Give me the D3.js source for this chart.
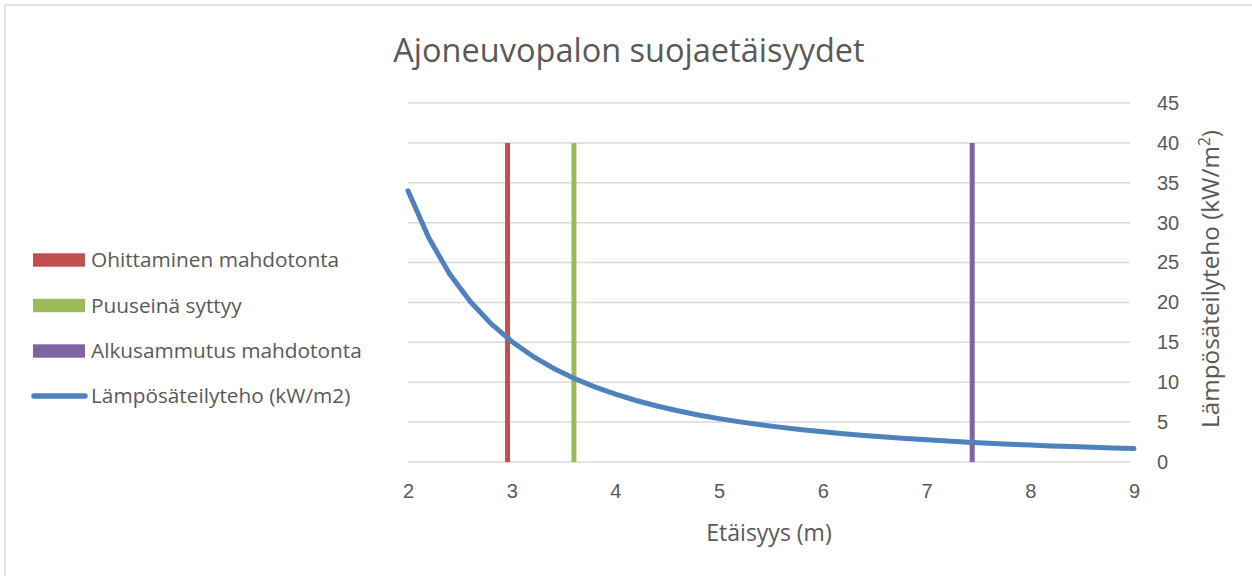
<!DOCTYPE html>
<html>
<head>
<meta charset="utf-8">
<script src="https://cdn.jsdelivr.net/npm/d3@7"></script>
<style>
  body { margin: 0; background: #fff; }
  svg { display: block; font-family: "Open Sans", "Noto Sans", sans-serif; }
</style>
</head>
<body>
<svg id="chart" width="1252" height="576"></svg>
<script>
// distance (m) and heat radiation (kW/m2)
var distances = [2.0, 2.2, 2.4, 2.6, 2.8, 3.0, 3.2, 3.4, 3.6, 3.8, 4.0, 4.2, 4.4, 4.6, 4.8,
                 5.0, 5.2, 5.4, 5.6, 5.8, 6.0, 6.2, 6.4, 6.6, 6.8, 7.0, 7.2, 7.4, 7.6, 7.8,
                 8.0, 8.2, 8.4, 8.6, 8.8, 9.0];
var radiation = [34.0, 28.1, 23.6, 20.12, 17.35, 15.11, 13.28, 11.76, 10.49, 9.42, 8.5, 7.71, 7.02, 6.43, 5.9,
                 5.44, 5.03, 4.66, 4.34, 4.04, 3.78, 3.54, 3.32, 3.12, 2.94, 2.78, 2.62, 2.48, 2.35, 2.24,
                 2.13, 2.02, 1.93, 1.84, 1.76, 1.68];

var limitNames = ["Ohittaminen mahdotonta", "Puuseinä syttyy", "Alkusammutus mahdotonta"];
var limitDistances = [2.96, 3.6, 7.44];
var limitTop = 40;
var limitColors = ["#C0504D", "#9BBB59", "#8064A2"];
var curveName = "Lämpösäteilyteho (kW/m2)";
var curveColor = "#4F81BD";

var xTicks = [2, 3, 4, 5, 6, 7, 8, 9];
var yTicks = [0, 5, 10, 15, 20, 25, 30, 35, 40, 45];

var svg = d3.select("#chart");
var textColor = "#595959";

// chart border
svg.append("rect")
    .attr("x", 5).attr("y", 5)
    .attr("width", 1260).attr("height", 590)
    .attr("fill", "none")
    .attr("stroke", "#d9d9d9")
    .attr("stroke-width", 1.5);

var xScale = d3.scaleLinear().domain([2, 9]).range([408, 1134]);
var yScale = d3.scaleLinear().domain([0, 45]).range([462, 103]);

// gridlines
svg.append("g")
    .selectAll("line")
    .data(yTicks)
    .enter()
    .append("line")
    .attr("x1", xScale(2))
    .attr("x2", xScale(9) - 4)
    .attr("y1", function(d) { return yScale(d); })
    .attr("y2", function(d) { return yScale(d); })
    .style("stroke", "#d9d9d9")
    .style("stroke-width", 1.5);

// x axis
var xAxis = d3.axisBottom(xScale).tickValues(xTicks).tickFormat(d3.format("d"))
    .tickSize(0).tickPadding(0);
var gx = svg.append("g")
    .attr("class", "x axis")
    .attr("transform", "translate(0,491)")
    .call(xAxis);
gx.select(".domain").remove();
gx.selectAll("text")
    .attr("fill", textColor)
    .attr("font-size", "20px")
    .attr("dy", "0.35em");

// y axis (right)
var yAxis = d3.axisRight(yScale).tickValues(yTicks).tickSize(0).tickPadding(0);
var gy = svg.append("g")
    .attr("class", "y axis")
    .attr("transform", "translate(1157,0)")
    .call(yAxis);
gy.select(".domain").remove();
gy.selectAll("text")
    .attr("fill", textColor)
    .attr("font-size", "20px");

// limit lines
svg.append("g")
    .selectAll("line")
    .data(limitDistances)
    .enter()
    .append("line")
    .attr("x1", function(d) { return xScale(d); })
    .attr("x2", function(d) { return xScale(d); })
    .attr("y1", yScale(0))
    .attr("y2", yScale(limitTop))
    .style("stroke", function(d, i) { return limitColors[i]; })
    .style("stroke-width", 5);

// radiation curve
var line = d3.line()
    .x(function(d, i) { return xScale(distances[i]); })
    .y(function(d) { return yScale(d); });
svg.append("path")
    .datum(radiation)
    .attr("d", line)
    .attr("fill", "none")
    .attr("stroke", curveColor)
    .attr("stroke-width", 5)
    .attr("stroke-linejoin", "round")
    .attr("stroke-linecap", "round");

// title
svg.append("text")
    .attr("x", 629)
    .attr("y", 62)
    .attr("text-anchor", "middle")
    .attr("font-size", "32.5px")
    .attr("fill", textColor)
    .text("Ajoneuvopalon suojaetäisyydet");

// axis titles
svg.append("text")
    .attr("x", 769)
    .attr("y", 541)
    .attr("text-anchor", "middle")
    .attr("font-size", "23px")
    .attr("fill", textColor)
    .text("Etäisyys (m)");

var yTitle = svg.append("text")
    .attr("transform", "translate(1219,279) rotate(-90)")
    .attr("text-anchor", "middle")
    .attr("font-size", "24.3px")
    .attr("fill", textColor);
yTitle.append("tspan").text("Lämpösäteilyteho (kW/m");
yTitle.append("tspan").attr("font-size", "15.5px").attr("dy", "-0.6em").text("2");
yTitle.append("tspan").attr("dy", "0.4em").text(")");

// legend
var legendY = [260, 305.5, 351, 396];
var legend = svg.append("g");
limitNames.forEach(function(name, i) {
    legend.append("rect")
        .attr("x", 33).attr("y", legendY[i] - 6.7)
        .attr("width", 52).attr("height", 13.4)
        .attr("fill", limitColors[i]);
    legend.append("text")
        .attr("x", 91).attr("y", legendY[i])
        .attr("dy", "0.35em")
        .attr("font-size", "20.8px")
        .attr("fill", textColor)
        .text(name);
});
legend.append("line")
    .attr("x1", 34).attr("x2", 85)
    .attr("y1", legendY[3]).attr("y2", legendY[3])
    .attr("stroke", curveColor)
    .attr("stroke-width", 5.5)
    .attr("stroke-linecap", "round");
legend.append("text")
    .attr("x", 91).attr("y", legendY[3])
    .attr("dy", "0.35em")
    .attr("font-size", "20.8px")
    .attr("fill", textColor)
    .text(curveName);
</script>
</body>
</html>
